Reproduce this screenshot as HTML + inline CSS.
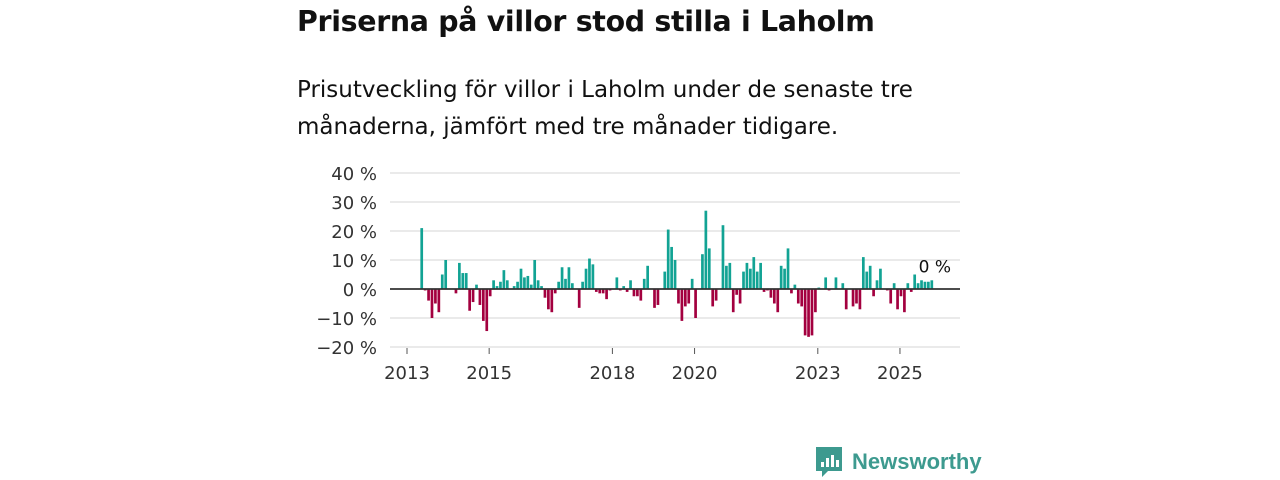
<!DOCTYPE html>
<html><head><meta charset="utf-8"><style>
body{margin:0;width:1280px;height:480px;background:#fff;overflow:hidden;font-family:"DejaVu Sans","Liberation Sans",sans-serif;color:#111}
h1{position:absolute;left:297px;top:5px;margin:0;font-size:28.4px;font-weight:bold;letter-spacing:-0.3px}
p{position:absolute;left:297px;top:72px;margin:0;font-size:23px;line-height:37px;width:700px}
svg{position:absolute;left:0;top:0}
</style></head><body>
<h1>Priserna på villor stod stilla i Laholm</h1>
<p>Prisutveckling för villor i Laholm under de senaste tre månaderna, jämfört med tre månader tidigare.</p>
<svg id="c" width="1280" height="480"></svg>
<script>
const yTicks=[40,30,20,10,0,-10,-20];
const yTickLabels=["40 %","30 %","20 %","10 %","0 %","−10 %","−20 %"];
const xTickYears=[2013,2015,2018,2020,2023,2025];
const startYear=2013, startMonth=4;
const values=[21,-0.5,-4,-10,-5,-8,5,10,0,0,-1.5,9,5.5,5.5,-7.5,-4.5,1.5,-5.5,-11,-14.5,-2.5,3,1,2.5,6.5,3,0,1,2.5,7,4,4.5,1.5,10,3,1,-3,-7,-8,-1.5,2.5,7.5,3.5,7.5,2,0,-6.5,2.5,7,10.5,8.5,-1,-1.5,-1.5,-3.5,-0.5,0,4,-0.5,1,-1,3,-2.5,-2.5,-4,3.5,8,0,-6.5,-5.5,0,6,20.5,14.5,10,-5,-11,-6,-5,3.5,-10,0,12,27,14,-6,-4,0,22,8,9,-8,-2,-5,6,9,7,11,6,9,-1,-0.5,-3,-5,-8,8,7,14,-1.5,1.5,-5,-6,-16,-16.5,-16,-8,0.5,0,4,-0.5,0,4,0,2,-7,0,-6,-5,-7,11,6,8,-2.5,3,7,0,-0.5,-5,2,-7,-2.5,-8,2,-1,5,2,3,2.5,2.5,3];
const lastLabel="0 %";
const NS="http://www.w3.org/2000/svg";
const svg=document.getElementById('c');
function y(v){return 289-v*2.9;}
function xYear(yr){return 407+(yr-2013)*41.08;}
function xMonth(i){return xYear(startYear+(startMonth+i+0.3)/12);}
function mk(t,a,txt){const e=document.createElementNS(NS,t);for(const k in a)e.setAttribute(k,a[k]);if(txt!==undefined)e.textContent=txt;svg.appendChild(e);return e;}
yTicks.forEach((v,k)=>{
  const g=mk('line',{x1:390,x2:960,y1:y(v),y2:y(v),stroke:'#dddddd','stroke-width':1.3});
  
  
  const t=mk('text',{x:377,y:y(v)+7,'text-anchor':'end','font-size':18,fill:'#333','font-family':'DejaVu Sans, sans-serif'},yTickLabels[k]);
  
  
});
xTickYears.forEach(yr=>{
  const l=mk('line',{x1:xYear(yr),x2:xYear(yr),y1:348,y2:354,stroke:'#555','stroke-width':1});
  
  
  const t=mk('text',{x:xYear(yr),y:379,'text-anchor':'middle','font-size':18,fill:'#333','font-family':'DejaVu Sans, sans-serif'},String(yr));
  
  
});
values.forEach((v,i)=>{
  const x=xMonth(i);
  const b=mk('rect',{x:x-1.35,width:2.7,y:Math.min(y(v),y(0)),height:Math.abs(y(v)-y(0)),fill:v>=0?'#12a394':'#a3003f'});
  
  
});
const z=mk('line',{x1:390,x2:960,y1:y(0),y2:y(0),stroke:'#333','stroke-width':1.8});


const lx=xMonth(values.length-1);
const ll=mk('text',{x:lx+3,y:y(values[values.length-1])-8,'text-anchor':'middle','font-size':17,fill:'#111','font-family':'DejaVu Sans, sans-serif'},lastLabel);


</script>
<svg width="1280" height="480" style="pointer-events:none">
<g>
<path d="M816 447 h26 v24 h-14 l-6 6 v-6 h-6 z" fill="#3d9a8f"/>
<rect x="821" y="462" width="3" height="5" fill="#fff"/><rect x="826" y="458" width="3" height="9" fill="#fff"/><rect x="831" y="455" width="3" height="12" fill="#fff"/><rect x="836" y="460" width="3" height="7" fill="#fff"/>
<text x="852" y="469" font-size="22" font-weight="bold" fill="#3d9a8f" font-family="Liberation Sans, sans-serif">Newsworthy</text>
</g></svg>
</body></html>
